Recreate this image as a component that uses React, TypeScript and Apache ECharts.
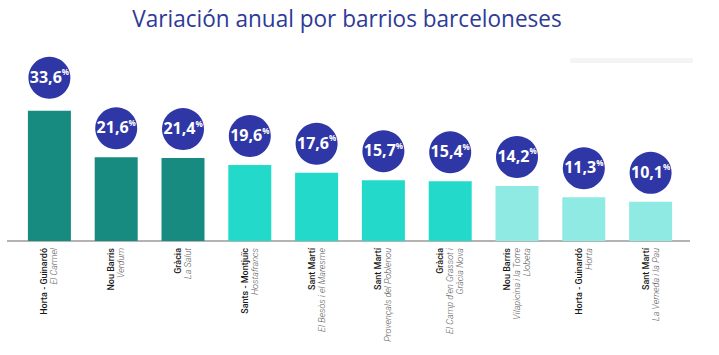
import React, { useEffect, useRef } from "react";
import * as echarts from "echarts";

const districts = [
  "Horta - Guinardó",
  "Nou Barris",
  "Gràcia",
  "Sants - Montjuïc",
  "Sant Martí",
  "Sant Martí",
  "Gràcia",
  "Nou Barris",
  "Horta - Guinardó",
  "Sant Martí",
];
const barrios = [
  "El Carmel",
  "Verdum",
  "La Salut",
  "Hostafrancs",
  "El Besòs i el Maresme",
  "Provençals del Poblenou",
  "El Camp d'en Grassot i\nGràcia Nova",
  "Vilapicina i la Torre\nLlobeta",
  "Horta",
  "La Verneda i la Pau",
];
const values = [33.6, 21.6, 21.4, 19.6, 17.6, 15.7, 15.4, 14.2, 11.3, 10.1];
const titleText = "Variación anual por barrios barceloneses";

const DARK = "#178B7F";
const MID = "#22D9CA";
const LIGHT = "#8FEAE4";
const BLUE = "#2F37A6";

function colorFor(v: number) {
  if (v >= 20) return DARK;
  if (v >= 15) return MID;
  return LIGHT;
}

export default function App() {
  const ref = useRef<HTMLDivElement>(null);
  useEffect(() => {
    document.body.style.margin = "0";
    const chart = echarts.init(ref.current!, null, { renderer: "svg" });
    const cats = districts.map((d, i) => String(i));
    chart.setOption({
      animation: false,
      backgroundColor: "#ffffff",
      grid: { left: 16, right: 35, top: 86, bottom: 114 },
      xAxis: {
        type: "category",
        data: cats,
        axisLine: { show: false },
        axisTick: { show: false },
        axisLabel: {
          interval: 0,
          rotate: 90,
          margin: 7,
          align: "right",
          formatter: (val: string) => {
            const i = Number(val);
            const lines = [`{b|${districts[i]}}`];
            barrios[i].split("\n").forEach((l) => lines.push(`{i|${l}}`));
            return lines.join("\n");
          },
          rich: {
            b: {
              fontFamily: "Roboto",
              fontWeight: 500,
              fontSize: 9,
              lineHeight: 10,
              color: "#1a1a1a",
              align: "right",
            },
            i: {
              fontFamily: "Roboto",
              fontStyle: "italic",
              fontWeight: 300,
              fontSize: 9,
              lineHeight: 10,
              color: "#5a5a5a",
              align: "right",
            },
          },
        },
      },
      yAxis: {
        type: "value",
        min: 0,
        max: 40,
        show: false,
        splitLine: { show: false },
      },
      series: [
        {
          type: "bar",
          barWidth: 43,
          data: values.map((v) => ({ value: v, itemStyle: { color: colorFor(v) } })),
        },
        {
          type: "custom",
          clip: false,
          data: values.map((v, i) => [i, v]),
          renderItem: (params: any, api: any) => {
            const pt = api.coord([api.value(0), api.value(1)]);
            const cx = pt[0];
            const cy = pt[1] - (params.dataIndex === 0 ? 33 : 29);
            const txt = api.value(1).toFixed(1).replace(".", ",");
            return {
              type: "group",
              children: [
                {
                  type: "circle",
                  shape: { cx, cy, r: 21 },
                  style: { fill: BLUE },
                },
                {
                  type: "text",
                  x: cx,
                  y: cy - 1,
                  style: {
                    text: `{v|${txt}}{p|%}`,
                    align: "center",
                    verticalAlign: "middle",
                    rich: {
                      v: {
                        fontFamily: "Open Sans",
                        fontWeight: "bold",
                        fontSize: 16,
                        lineHeight: 18,
                        fill: "#ffffff",
                        color: "#ffffff",
                      },
                      p: {
                        fontFamily: "Open Sans",
                        fontWeight: "bold",
                        fontSize: 8,
                        lineHeight: 18,
                        verticalAlign: "top",
                        fill: "#ffffff",
                        color: "#ffffff",
                      },
                    },
                  },
                },
              ],
            };
          },
        },
      ],
      graphic: [
        {
          type: "text",
          x: 347,
          y: 18,
          originX: 0,
          originY: 0,
          scaleX: 0.94,
          style: {
            text: titleText,
            fontFamily: "Open Sans",
            fontSize: 24,
            fill: "#2E3A97",
            align: "center",
            verticalAlign: "middle",
          },
        },
        {
          type: "line",
          shape: { x1: 7, y1: 241, x2: 690, y2: 241 },
          style: { stroke: "#9a9a9a", lineWidth: 1.5 },
        },
        {
          type: "rect",
          shape: { x: 570, y: 58, width: 123, height: 5, r: 2 },
          style: { fill: "#f4f4f4" },
        },
      ],
    });
    return () => chart.dispose();
  }, []);
  return <div ref={ref} style={{ width: 719, height: 355 }} />;
}
